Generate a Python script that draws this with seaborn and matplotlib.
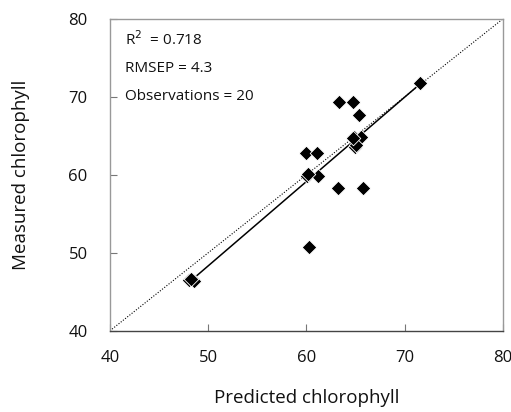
import numpy as np
import pandas as pd
import matplotlib
matplotlib.use("Agg")
import matplotlib.pyplot as plt
import seaborn as sns

predicted = [71.6, 63.3, 64.8, 65.4, 64.9, 65.6, 65.0, 65.1, 60.0, 61.1,
             60.1, 61.2, 60.2, 63.2, 65.8, 60.3, 48.1, 48.6, 48.3, 64.8]
measured = [71.8, 69.4, 69.4, 67.7, 64.9, 64.8, 63.6, 63.8, 62.8, 62.8,
            59.9, 59.9, 60.1, 58.3, 58.3, 50.8, 46.5, 46.4, 46.6, 64.7]
r2_text = "R$^2$  = 0.718"
rmsep_text = "RMSEP = 4.3"
obs_text = "Observations = 20"


def main():
    df = pd.DataFrame({"predicted": predicted, "measured": measured})

    sns.set_style("ticks")
    plt.rcParams["font.family"] = ["Open Sans", "DejaVu Sans"]
    plt.rcParams["text.color"] = "#111111"
    plt.rcParams["axes.labelcolor"] = "#111111"

    fig = plt.figure(figsize=(5.11, 4.12), dpi=100)
    ax = fig.add_axes([0.215, 0.197, 0.769, 0.757])

    ax.plot([40, 80], [40, 80], linestyle=(0, (1, 1.5)), color="black", linewidth=0.8, zorder=1)
    sns.regplot(data=df, x="predicted", y="measured", scatter=False, ci=None,
                color="black", line_kws={"linewidth": 1.1, "zorder": 2}, ax=ax)
    sns.scatterplot(data=df, x="predicted", y="measured", marker="D", s=55,
                    color="black", edgecolor="white", linewidth=0.6, zorder=3, ax=ax)

    ax.set_xlim(40, 80)
    ax.set_ylim(40, 80)
    ax.set_xticks([40, 50, 60, 70, 80])
    ax.set_yticks([40, 50, 60, 70, 80])
    ax.tick_params(direction="in", length=5, width=0.8, color="#777777",
                   labelsize=12, labelcolor="#111111", pad=14)
    ax.tick_params(axis="y", pad=16)
    for side in ["left", "top", "right"]:
        ax.spines[side].set_color("#999999")
        ax.spines[side].set_linewidth(1.0)
    ax.spines["bottom"].set_color("#444444")
    ax.spines["bottom"].set_linewidth(1.0)

    ax.set_xlabel("Predicted chlorophyll", fontsize=13.5, labelpad=16)
    ax.set_ylabel("Measured chlorophyll", fontsize=13.5, labelpad=28)

    ax.text(41.5, 77.3, r2_text, fontsize=11, va="center")
    ax.text(41.5, 73.7, rmsep_text, fontsize=11, va="center")
    ax.text(41.5, 70.1, obs_text, fontsize=11, va="center")

    fig.savefig("out.png", dpi=100)
    plt.close(fig)


if __name__ == "__main__":
    main()
